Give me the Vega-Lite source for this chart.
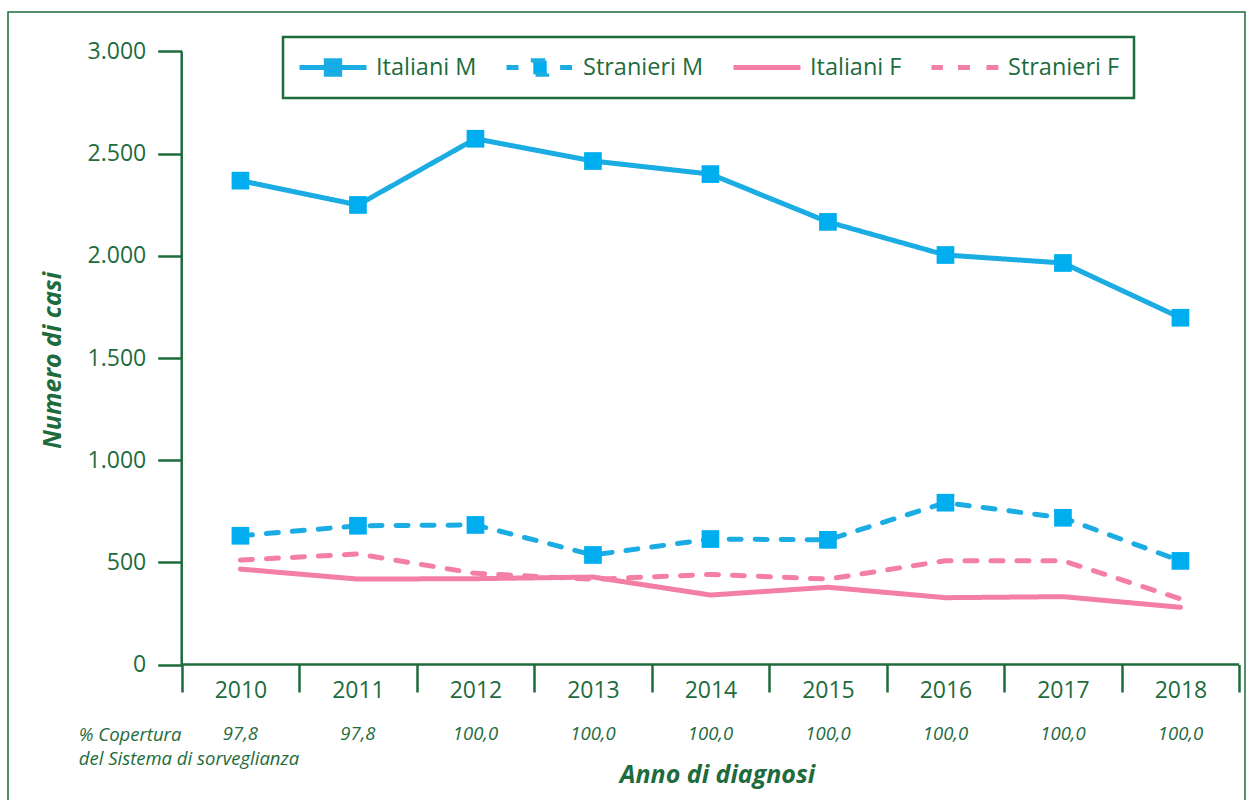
{
  "$schema": "https://vega.github.io/schema/vega-lite/v6.json",
  "width": 1237,
  "height": 790,
  "autosize": "none",
  "padding": {"left": 8, "top": 12, "right": 2, "bottom": -2},
  "background": "white",
  "config": {
    "font": "Open Sans",
    "locale": {"number": {"decimal": ",", "thousands": ".", "grouping": [3], "currency": ["€", ""]}},
    "view": {"stroke": "#1e6b3d", "strokeWidth": 1.5},
    "axis": {
      "grid": false,
      "domain": false,
      "labelFont": "Open Sans",
      "labelColor": "#1e6b3d",
      "labelFontSize": 23,
      "tickColor": "#1e6b3d",
      "titleColor": "#1e6b3d",
      "titleFont": "Open Sans"
    },
    "legend": {
      "labelFont": "Open Sans",
      "labelFontSize": 23.5,
      "labelColor": "#1e6b3d",
      "labelLimit": 0,
      "symbolSize": 4489,
      "symbolStrokeWidth": 5,
      "symbolDash": [100, 0],
      "labelOffset": 7,
      "columnPadding": 27,
      "padding": 14,
      "strokeColor": "#1e6b3d",
      "clipHeight": 33
    }
  },
  "datasets": {
    "casi": [
      {"anno": 2010, "serie": "Italiani M", "casi": 2368},
      {"anno": 2011, "serie": "Italiani M", "casi": 2249},
      {"anno": 2012, "serie": "Italiani M", "casi": 2573},
      {"anno": 2013, "serie": "Italiani M", "casi": 2464},
      {"anno": 2014, "serie": "Italiani M", "casi": 2400},
      {"anno": 2015, "serie": "Italiani M", "casi": 2166},
      {"anno": 2016, "serie": "Italiani M", "casi": 2004},
      {"anno": 2017, "serie": "Italiani M", "casi": 1965},
      {"anno": 2018, "serie": "Italiani M", "casi": 1697},
      {"anno": 2010, "serie": "Stranieri M", "casi": 630},
      {"anno": 2011, "serie": "Stranieri M", "casi": 679},
      {"anno": 2012, "serie": "Stranieri M", "casi": 683},
      {"anno": 2013, "serie": "Stranieri M", "casi": 536},
      {"anno": 2014, "serie": "Stranieri M", "casi": 614},
      {"anno": 2015, "serie": "Stranieri M", "casi": 610},
      {"anno": 2016, "serie": "Stranieri M", "casi": 792},
      {"anno": 2017, "serie": "Stranieri M", "casi": 718},
      {"anno": 2018, "serie": "Stranieri M", "casi": 507},
      {"anno": 2010, "serie": "Italiani F", "casi": 467},
      {"anno": 2011, "serie": "Italiani F", "casi": 418},
      {"anno": 2012, "serie": "Italiani F", "casi": 420},
      {"anno": 2013, "serie": "Italiani F", "casi": 428},
      {"anno": 2014, "serie": "Italiani F", "casi": 340},
      {"anno": 2015, "serie": "Italiani F", "casi": 378},
      {"anno": 2016, "serie": "Italiani F", "casi": 327},
      {"anno": 2017, "serie": "Italiani F", "casi": 332},
      {"anno": 2018, "serie": "Italiani F", "casi": 280},
      {"anno": 2010, "serie": "Stranieri F", "casi": 511},
      {"anno": 2011, "serie": "Stranieri F", "casi": 541},
      {"anno": 2012, "serie": "Stranieri F", "casi": 446},
      {"anno": 2013, "serie": "Stranieri F", "casi": 417},
      {"anno": 2014, "serie": "Stranieri F", "casi": 441},
      {"anno": 2015, "serie": "Stranieri F", "casi": 418},
      {"anno": 2016, "serie": "Stranieri F", "casi": 508},
      {"anno": 2017, "serie": "Stranieri F", "casi": 508},
      {"anno": 2018, "serie": "Stranieri F", "casi": 321}
    ],
    "copertura": [
      {"anno": 2010, "copertura": 97.8},
      {"anno": 2011, "copertura": 97.8},
      {"anno": 2012, "copertura": 100.0},
      {"anno": 2013, "copertura": 100.0},
      {"anno": 2014, "copertura": 100.0},
      {"anno": 2015, "copertura": 100.0},
      {"anno": 2016, "copertura": 100.0},
      {"anno": 2017, "copertura": 100.0},
      {"anno": 2018, "copertura": 100.0}
    ]
  },
  "layer": [
    {
      "data": {"values": [{}]},
      "mark": {"type": "rule", "color": "#1e6b3d", "strokeWidth": 2.5},
      "encoding": {
        "x": {"datum": 2009.5, "type": "quantitative", "scale": {"domain": [2008.0217, 2018.5494], "nice": false, "zero": false}, "axis": null},
        "y": {"datum": 0, "type": "quantitative", "scale": {"domain": [-672.9, 3193.3], "nice": false, "zero": false}, "axis": null},
        "y2": {"datum": 3000}
      }
    },
    {
      "data": {"values": [{}]},
      "mark": {"type": "rule", "color": "#1e6b3d", "strokeWidth": 2.7},
      "encoding": {
        "x": {
          "datum": 2009.5,
          "type": "quantitative",
          "scale": {"domain": [2008.0217, 2018.5494], "nice": false, "zero": false},
          "axis": {
            "orient": "bottom",
            "offset": -137.5,
            "values": [2009.5, 2010.5, 2011.5, 2012.5, 2013.5, 2014.5, 2015.5, 2016.5, 2017.5, 2018.5],
            "labels": false,
            "ticks": true,
            "tickSize": 27.5,
            "tickWidth": 2.5,
            "title": ["% Copertura", "del Sistema di sorveglianza"],
            "titleFontStyle": "italic",
            "titleFontWeight": "normal",
            "titleFontSize": 18.5,
            "titleAlign": "left",
            "titleBaseline": "alphabetic",
            "titleX": 70.3,
            "titleY": 75.5,
            "titleLineHeight": 24
          }
        },
        "x2": {"datum": 2018.5},
        "y": {"datum": 0, "type": "quantitative", "scale": {"domain": [-672.9, 3193.3], "nice": false, "zero": false}, "axis": null}
      }
    },
    {
      "data": {"name": "casi"},
      "mark": {"type": "line", "strokeWidth": 5, "strokeCap": "round", "strokeJoin": "round"},
      "encoding": {
        "x": {
          "field": "anno",
          "type": "quantitative",
          "scale": {"domain": [2008.0217, 2018.5494], "nice": false, "zero": false},
          "axis": {
            "orient": "bottom",
            "offset": -137.5,
            "values": [2010, 2011, 2012, 2013, 2014, 2015, 2016, 2017, 2018],
            "format": "d",
            "ticks": false,
            "tickSize": 0,
            "labelPadding": 33,
            "labelBaseline": "alphabetic",
            "labelFlush": false,
            "labelOverlap": false,
            "title": "Anno di diagnosi",
            "titleFontSize": 25,
            "titleFontStyle": "italic",
            "titleFontWeight": "bold",
            "titleAlign": "center",
            "titleBaseline": "alphabetic",
            "titleX": 709,
            "titleY": 118.2
          }
        },
        "y": {
          "field": "casi",
          "type": "quantitative",
          "scale": {"domain": [-672.9, 3193.3], "nice": false, "zero": false},
          "axis": {
            "orient": "left",
            "offset": -173.7,
            "values": [0, 500, 1000, 1500, 2000, 2500, 3000],
            "format": ",d",
            "tickSize": 24,
            "tickWidth": 2.5,
            "labelPadding": 12,
            "title": "Numero di casi",
            "titleFontSize": 25,
            "titleFontStyle": "italic",
            "titleFontWeight": "bold",
            "titleAngle": 270,
            "titleAlign": "center",
            "titleBaseline": "alphabetic",
            "titleX": -121,
            "titleY": 348
          }
        },
        "color": {
          "field": "serie",
          "type": "nominal",
          "scale": {
            "domain": ["Italiani M", "Stranieri M", "Italiani F", "Stranieri F"],
            "range": ["#1aace2", "#1aace2", "#f47fa4", "#f47fa4"]
          },
          "legend": {
            "orient": "none",
            "legendX": 275,
            "legendY": 25,
            "direction": "horizontal",
            "columns": 4,
            "title": null,
            "encode": {
              "symbols": {
                "update": {
                  "shape": {"signal": "datum.value === 'Italiani M' ? 'M-1,0H1M-0.2,-0.2H0.2V0.2H-0.2Z' : datum.value === 'Stranieri M' ? 'M-1,0H-0.6M0.6,0H1M-0.2,-0.2H0.2V0.2H-0.2Z' : datum.value === 'Italiani F' ? 'M-1,0H1' : 'M-1,0H-0.66M-0.21,0H0.21M0.64,0H1'"},
                  "fill": {"signal": "indexof(datum.value, ' M') >= 0 ? '#00adef' : 'transparent'"},
                  "strokeDash": {"value": [100, 0]}
                }
              },
              "legend": {"update": {"strokeWidth": {"value": 2.5}}}
            }
          }
        },
        "strokeDash": {
          "field": "serie",
          "type": "nominal",
          "scale": {
            "domain": ["Italiani M", "Stranieri M", "Italiani F", "Stranieri F"],
            "range": [[1, 0], [12, 14], [1, 0], [12, 14]]
          },
          "legend": null
        }
      }
    },
    {
      "data": {"name": "casi"},
      "transform": [{"filter": {"field": "serie", "oneOf": ["Italiani M", "Stranieri M"]}}],
      "mark": {"type": "point", "shape": "square", "filled": true, "size": 313, "opacity": 1, "strokeWidth": 0},
      "encoding": {
        "x": {"field": "anno", "type": "quantitative", "scale": {"domain": [2008.0217, 2018.5494], "nice": false, "zero": false}, "axis": null},
        "y": {"field": "casi", "type": "quantitative", "scale": {"domain": [-672.9, 3193.3], "nice": false, "zero": false}, "axis": null},
        "color": {"value": "#00adef"}
      }
    },
    {
      "data": {"name": "copertura"},
      "mark": {"type": "text", "fontStyle": "italic", "fontSize": 18.5, "color": "#1e6b3d", "align": "center", "baseline": "alphabetic"},
      "encoding": {
        "x": {"field": "anno", "type": "quantitative", "scale": {"domain": [2008.0217, 2018.5494], "nice": false, "zero": false}, "axis": null},
        "y": {"datum": -369.5, "type": "quantitative", "scale": {"domain": [-672.9, 3193.3], "nice": false, "zero": false}, "axis": null},
        "text": {"field": "copertura", "type": "quantitative", "format": ".1f"}
      }
    }
  ],
  "resolve": {"axis": {"x": "independent", "y": "independent"}}
}
